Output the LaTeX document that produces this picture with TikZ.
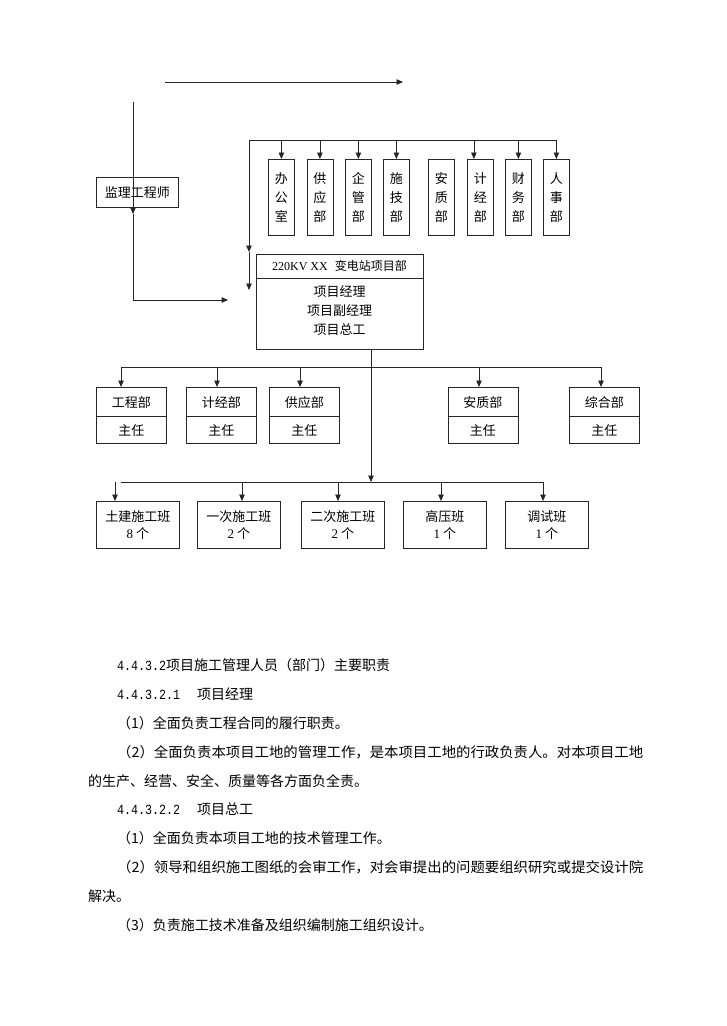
\documentclass[tikz,border=0pt]{standalone}
\usepackage{fontspec}
\setmainfont{Noto Sans CJK SC}
\newfontfamily\lserif{Liberation Serif}
\newfontfamily\lmono{Liberation Mono}
\newcommand{\secnum}[1]{\scalebox{0.833}[1]{\fontsize{14}{16}\lmono #1}}
\usetikzlibrary{arrows.meta}
\begin{document}
\begin{tikzpicture}[x=1pt,y=-1pt,
  ln/.style={line width=0.8pt,draw=black!85},
  arr/.style={ln,-{Triangle[length=6.5pt,width=5.5pt]}},
  box/.style={draw=black!85,line width=0.8pt,inner sep=0pt,anchor=north west},
  vbox/.style={box,minimum width=26pt,minimum height=76pt,align=center,font=\fontsize{13}{19}\selectfont},
  mbox/.style={box,minimum width=70pt,minimum height=56pt},
  bbox/.style={box,minimum width=83pt,minimum height=47pt,align=center,font=\fontsize{13}{17}\selectfont},
  lbl/.style={inner sep=0pt,font=\fontsize{13}{15}\selectfont},
  para/.style={anchor=base west,inner sep=0pt,font=\fontsize{14}{16}\selectfont}]
\useasboundingbox (0,0) rectangle (726,1026);
\fill[white] (0,0) rectangle (726,1026);

% top arrow
\coordinate (ta1) at (165,82); \coordinate (ta2) at (403,82);
\draw[arr] (ta1) -- (ta2);

% supervisor
\node[box,minimum width=82pt,minimum height=30pt,font=\fontsize{13}{15}\selectfont] (jl) at (96,177) {监理工程师};
\coordinate (s0) at (133,102); \coordinate (s1) at (133,214);
\coordinate (s2) at (133,300); \coordinate (s3) at (228,300);
\draw[arr] (s0) -- (s1);
\draw[arr] (s1) -- (s2) -- (s3);

% top bus
\coordinate (tb0) at (249,140); \coordinate (tb1) at (556,140);
\coordinate (tl1) at (249,252); \coordinate (tl2) at (249,290);
\draw[ln] (tb0) -- (tb1);
\draw[arr] (tb0) -- (tl1);
\draw[arr] (tl1) -- (tl2);

% top departments
\node[vbox] (d1) at (268,159) {办\\公\\室};
\node[vbox] (d2) at (306.5,159) {供\\应\\部};
\node[vbox] (d3) at (345,159) {企\\管\\部};
\node[vbox] (d4) at (383,159) {施\\技\\部};
\node[vbox] (d5) at (428,159) {安\\质\\部};
\node[vbox] (d6) at (467,159) {计\\经\\部};
\node[vbox] (d7) at (505,159) {财\\务\\部};
\node[vbox] (d8) at (543,159) {人\\事\\部};
\foreach \d in {d1,d2,d3,d4,d7,d8}{\draw[arr] (\d.north |- tb0) -- (\d.north);}
\draw[arr] ([xshift=-6.5pt]d6.north |- tb0) -- ([xshift=-6.5pt]d6.north);

% project department box
\node[box,minimum width=167pt,minimum height=95pt] (pm) at (256,254) {};
\draw[ln] ([yshift=-24pt]pm.north west) -- ([yshift=-24pt]pm.north east);
\node[inner sep=0pt,font=\fontsize{12}{14}\selectfont] (pmh) at (339.5,266) {{\lserif 220KV XX}\hspace{7pt}变电站项目部};
\node[inner sep=0pt,align=center,font=\fontsize{13}{19}\selectfont] (pmb) at (339.5,311) {项目经理\\项目副经理\\项目总工};

% trunk
\coordinate (mb) at (371,367); \coordinate (lb) at (371,482);
\draw[ln] (pm.south -| mb) -- (mb);
\draw[arr] (mb) -- (lb);

% middle bus and boxes
\coordinate (mb0) at (121,367); \coordinate (mb1) at (601,367);
\draw[ln] (mb0) -- (mb1);
\node[mbox] (g1) at (96,387) {};
\node[mbox] (g2) at (186,387) {};
\node[mbox] (g3) at (269,387) {};
\node[mbox] (g4) at (447.5,387) {};
\node[mbox] (g5) at (569,387) {};
\foreach \g/\t/\o in {g1/工程部/25,g2/计经部/31,g3/供应部/31,g4/安质部/31.5,g5/综合部/32}{
  \draw[ln] ([yshift=-29pt]\g.north west) -- ([yshift=-29pt]\g.north east);
  \node[lbl] (\g t) at ([yshift=-16pt]\g.north) {\t};
  \node[lbl] (\g b) at ([yshift=-44pt]\g.north) {主任};
  \draw[arr] ([xshift=\o pt]\g.north west |- mb0) -- ([xshift=\o pt]\g.north west);
}

% lower bus and boxes
\coordinate (lb0) at (121,482); \coordinate (lb1) at (543,482);
\coordinate (lb2) at (115,482);
\draw[ln] (lb0) -- (lb1);
\node[bbox] (h1) at (96,501) {土建施工班\\{\lserif 8} 个};
\node[bbox] (h2) at (197,501) {一次施工班\\{\lserif 2} 个};
\node[bbox] (h3) at (301,501) {二次施工班\\{\lserif 2} 个};
\node[bbox] (h4) at (403,501) {高压班\\{\lserif 1} 个};
\node[bbox] (h5) at (505,501) {调试班\\{\lserif 1} 个};
\draw[arr] (lb2) -- (lb2 |- h1.north);
\foreach \h/\o in {h2/45,h3/37,h4/38,h5/38}{
  \draw[arr] ([xshift=\o pt]\h.north west |- lb0) -- ([xshift=\o pt]\h.north west);
}

% text
\node[para] (p1) at (117,670) {\secnum{4.4.3.2}项目施工管理人员（部门）主要职责};
\node[para] (p2a) at (117,699) {\secnum{4.4.3.2.1}};
\node[para] (p2b) at (197,699) {项目经理};
\node[para] (p3) at (117,728) {（1）全面负责工程合同的履行职责。};
\node[para] (p4) at (117,757) {\resizebox{526pt}{\height}{（2）全面负责本项目工地的管理工作，是本项目工地的行政负责人。对本项目工地}};
\node[para] (p5) at (88,786) {的生产、经营、安全、质量等各方面负全责。};
\node[para] (p6a) at (117,814) {\secnum{4.4.3.2.2}};
\node[para] (p6b) at (197,814) {项目总工};
\node[para] (p7) at (117,843) {（1）全面负责本项目工地的技术管理工作。};
\node[para] (p8) at (117,872) {\resizebox{526pt}{\height}{（2）领导和组织施工图纸的会审工作，对会审提出的问题要组织研究或提交设计院}};
\node[para] (p9) at (88,901) {解决。};
\node[para] (p10) at (117,930) {（3）负责施工技术准备及组织编制施工组织设计。};
\end{tikzpicture}
\end{document}
